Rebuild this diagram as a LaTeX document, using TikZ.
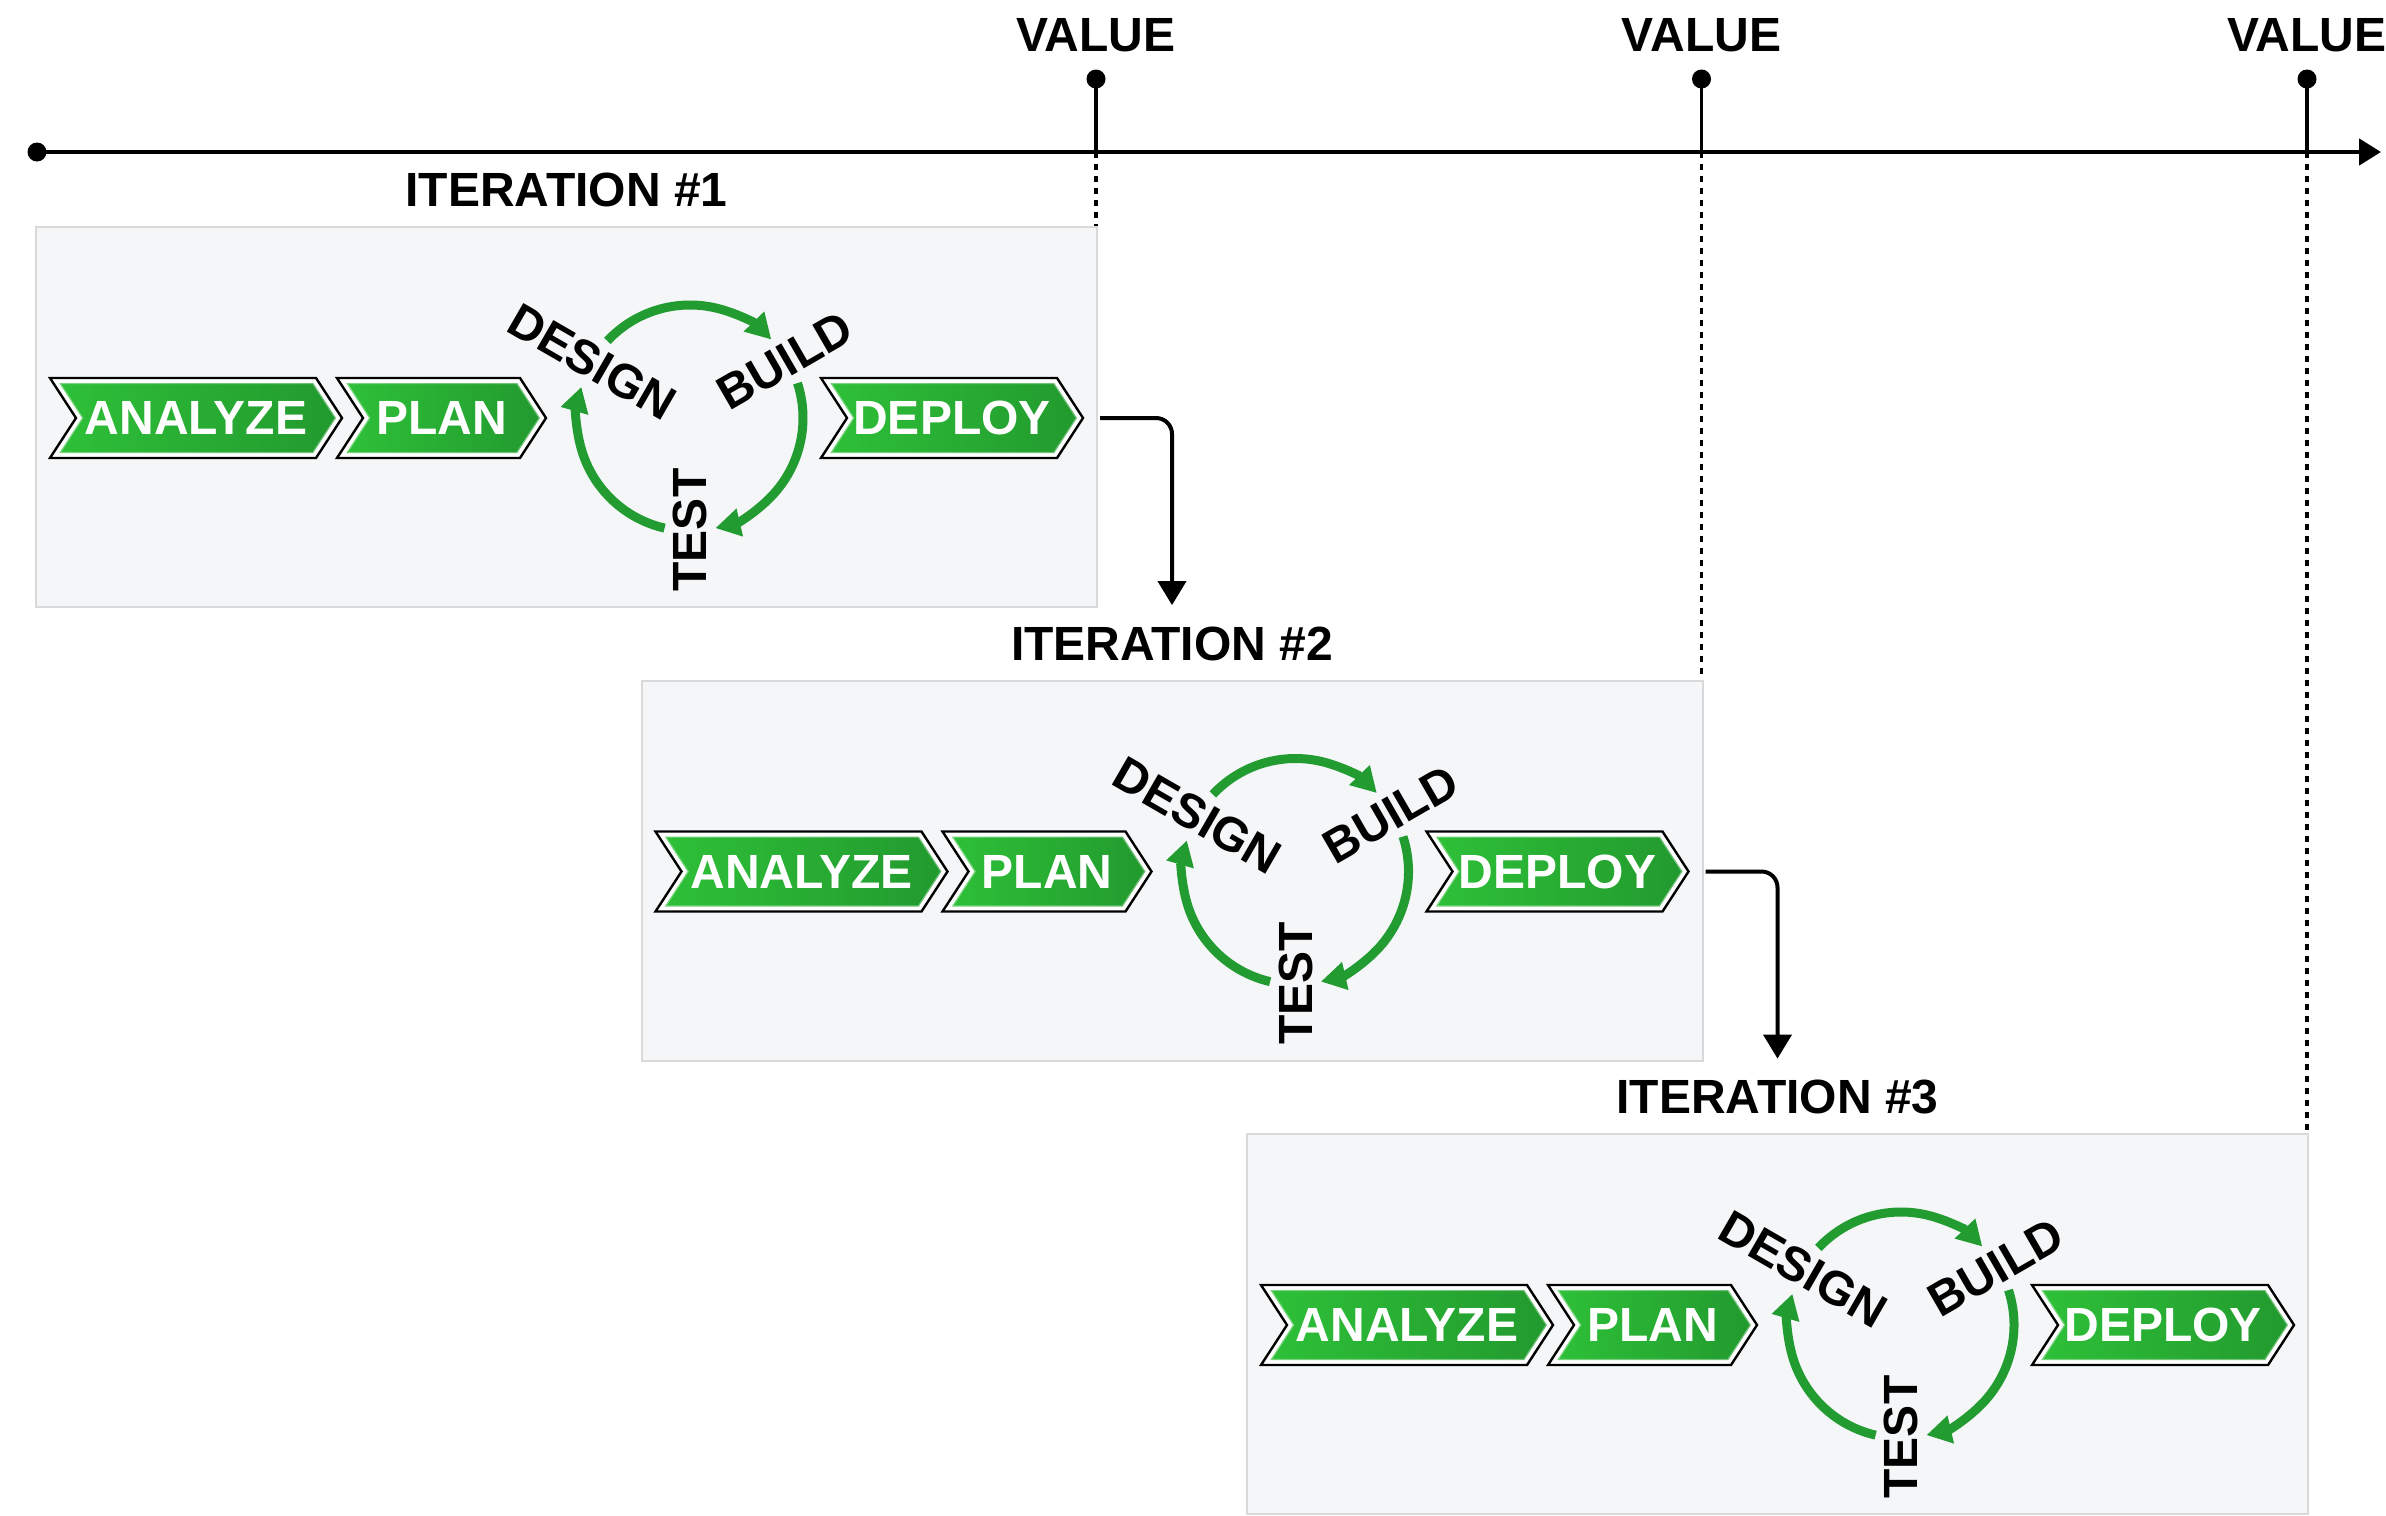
\documentclass[tikz,border=0pt]{standalone}
\usepackage{fontspec}
\setmainfont{Liberation Sans}
\usetikzlibrary{arrows.meta,calc}
\definecolor{panelfill}{HTML}{F4F6F8}
\definecolor{panelline}{HTML}{D9D9D9}
\definecolor{chevL}{HTML}{2EC038}
\definecolor{chevR}{HTML}{229A2E}
\definecolor{cyc}{HTML}{229B30}
\newcommand\mychev[4]{%
  \draw[chevout] (#2,378) -- ({#3-26},378) -- (#3,418) -- ({#3-26},458) -- (#2,458) -- ({#2+26},418) -- cycle;
  \path[chevin] ({#2+9.25},383) -- ({#3-28.75},383) -- ({#3-6},418) -- ({#3-28.75},453) -- ({#2+9.25},453) -- ({#2+32},418) -- cycle;
  \draw[chevglow] ({#2+9.25},383) -- ({#3-28.75},383) -- ({#3-6},418) -- ({#3-28.75},453) -- ({#2+9.25},453) -- ({#2+32},418) -- cycle;
  \node[chevtext] (#1) at ({(#2+#3)/2},418) {#4};
}
\begin{document}
\begin{tikzpicture}[x=0.5pt,y=-0.5pt,
  lbl/.style={font=\fontsize{24}{27}\selectfont\bfseries, inner sep=0pt},
  chevtext/.style={lbl, text=white},
  chevout/.style={draw=black, line width=1.2pt, fill=white, line join=miter},
  chevin/.style={left color=chevL, right color=chevR},
  chevglow/.style={draw=white, opacity=0.35, line width=1.2pt},
  panel/.style={draw=panelline, line width=1pt, fill=panelfill, minimum width=530.5pt, minimum height=190pt, inner sep=0pt},
  cycarrow/.style={draw=cyc, line width=4.5pt, -{Triangle[length=12.5pt,width=13.5pt]}},
  axis/.style={line width=2.4pt, -{Triangle[length=11pt,width=13pt]}},
  stem/.style={line width=1.7pt},
  dotline/.style={line width=1.7pt, dash pattern=on 3pt off 3pt},
  conn/.style={line width=2pt, rounded corners=8pt, -{Triangle[length=12pt,width=14pt]}, shorten >=10.5pt}
]
\useasboundingbox (0,0) rectangle (2386,1515);
\fill[white] (0,0) rectangle (2386,1515);

% timeline
\coordinate (t0) at (37,152);
\coordinate (tend) at (2381,152);
\draw[axis] (t0) -- (tend);
\fill (t0) circle[radius=9.5];

\foreach \k in {0,1,2}{
  \begin{scope}[shift={(605.5*\k,453.5*\k)}]
    \node[panel] (box\k) at (566.5,417) {};
    \node[lbl] (it\k) at (566.5,190) {ITERATION \#\the\numexpr\k+1\relax};
    \mychev{an\k}{50}{342}{ANALYZE}
    \mychev{pl\k}{337}{546}{PLAN}
    \mychev{de\k}{821}{1083}{DEPLOY}
    \coordinate (depout\k) at (1100,418);
    \coordinate (cc\k) at (690,418);
    \draw[cycarrow] (cc\k) ++(-137:113) arc[start angle=-137,end angle=-44,radius=113];
    \draw[cycarrow] (cc\k) ++(-18:113) arc[start angle=-18,end angle=77,radius=113];
    \draw[cycarrow] (cc\k) ++(103:113) arc[start angle=103,end angle=196,radius=113];
    \node[lbl, rotate=-30] (ds\k) at (592,362) {DESIGN};
    \node[lbl, rotate=30] (bu\k) at (785,361) {BUILD};
    \node[lbl, rotate=90] (te\k) at (690,530) {TEST};
  \end{scope}
  \coordinate (vtop\k) at ({1096+605.5*\k},79);
  \coordinate (vbase\k) at ({1096+605.5*\k},152);
  \draw[stem] (vtop\k) -- (vbase\k);
  \fill (vtop\k) circle[radius=9.5];
  \draw[dotline] (vbase\k) -- (vbase\k |- box\k.north);
  \node[lbl] (val\k) at ({1096+605.5*\k},35) {VALUE};
}
\draw[conn] (depout0) -| (it1.north);
\draw[conn] (depout1) -| (it2.north);
\end{tikzpicture}
\end{document}
